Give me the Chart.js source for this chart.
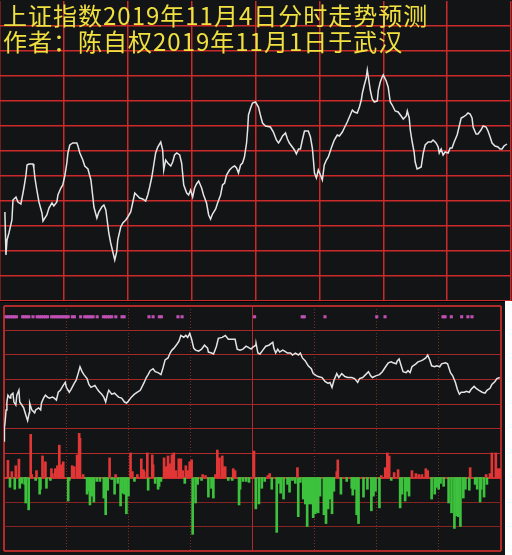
<!DOCTYPE html>
<html>
<head>
<meta charset="utf-8">
<script src="https://cdn.jsdelivr.net/npm/chart.js@4/dist/chart.umd.min.js"></script>
<style>
  body { margin: 0; background: #000; width: 512px; height: 555px; overflow: hidden; position: relative; }
  canvas { position: absolute; background: #131416; }
  #top { left: 0; top: 0; }
  #bottom { left: 0; top: 302px; }
  #strip { position: absolute; left: 505px; top: 301px; width: 7px; height: 254px; background: #fff; }
  #title {
    position: absolute; left: 3px; top: 2px;
    font: 24px "Noto Sans CJK SC", sans-serif; line-height: 26px;
    letter-spacing: 1px; color: #f0e040; white-space: pre;
  }
</style>
</head>
<body>
<canvas id="top" width="512" height="301"></canvas>
<canvas id="bottom" width="505" height="253"></canvas>
<div id="strip"></div>
<div id="title">上证指数2019年11月4日分时走势预测
作者：陈自权2019年11月1日于武汉</div>
<script>
// upper panel: forecast line (minutes after the open, index points)
const topMinutes = [2.3,2.8,3.3,4.2,5.6,6.1,7.5,8.4,9.8,10.8,11.3,12.2,12.7,13.6,15.5,15.9,16.4,17.3,18.3,19.7,
  20.2,22.0,23.0,24.4,25.3,26.7,27.2,28.6,29.5,30.5,31.4,31.9,32.8,34.2,36.1,36.6,37.5,38.9,39.8,41.3,
  42.7,43.6,44.1,45.5,46.4,47.8,48.8,49.7,50.2,51.1,52.0,53.0,53.9,54.8,55.3,56.7,57.7,59.1,60.0,61.4,
  62.3,63.3,64.2,65.6,67.0,68.4,69.4,70.3,71.3,72.2,73.1,74.1,75.5,76.4,76.9,77.8,78.8,80.2,81.1,82.0,
  83.0,84.4,85.3,86.3,87.7,88.6,89.5,90.5,91.4,92.3,93.3,94.7,95.6,97.0,98.0,98.9,99.8,101.3,102.2,103.6,
  104.5,105.5,106.4,107.8,109.2,110.2,111.1,112.0,113.0,113.9,114.8,115.8,116.3,116.7,117.7,118.6,120.0,121.4,122.3,123.3,
  124.7,127.0,128.4,129.8,130.8,131.7,132.7,134.1,135.0,135.9,137.3,138.3,139.2,140.2,141.1,142.0,143.0,144.8,145.8,146.7,
  147.2,147.7,148.6,149.5,150.5,151.4,152.3,153.3,154.2,155.6,157.0,158.4,159.4,160.8,161.7,163.1,164.1,165.5,166.4,167.8,
  168.8,169.7,170.2,171.1,172.0,172.5,173.0,173.9,174.8,175.8,177.2,177.7,178.6,179.5,180.0,181.4,182.3,183.3,184.2,185.6,
  187.0,188.4,189.4,190.8,191.3,192.2,192.7,193.6,194.5,195.0,195.9,196.9,197.8,198.8,199.7,201.1,202.5,203.4,204.8,205.8,
  206.3,207.2,208.1,209.1,210.5,211.4,212.3,213.3,214.7,215.6,216.6,217.5,218.9,219.8,220.8,221.7,222.2,223.6,224.5,225.9,
  226.9,228.3,229.2,230.2,231.1,232.5,233.9,234.8,235.8,236.7,238.1];
const topPrices = [2935.6,2918.4,2924.4,2927.2,2932.4,2940.4,2941.6,2939.6,2938.8,2943.2,2945.6,2950.4,2954.4,2954.8,2954.8,2953.2,2949.2,2944.4,2939.6,2935.2,
  2932.0,2934.4,2937.2,2939.2,2938.0,2939.6,2942.4,2945.2,2946.4,2950.4,2955.2,2959.2,2962.4,2963.2,2963.2,2962.0,2959.2,2956.4,2954.0,2952.8,
  2948.4,2941.6,2937.6,2933.2,2935.6,2937.6,2938.4,2936.4,2933.2,2927.2,2923.2,2919.6,2916.4,2919.6,2924.4,2929.6,2931.2,2932.4,2933.6,2935.6,
  2939.2,2943.2,2942.4,2941.2,2940.8,2940.0,2942.4,2945.6,2949.6,2954.4,2959.2,2961.6,2963.6,2960.4,2952.4,2956.4,2955.2,2954.0,2955.6,2958.4,
  2959.2,2958.4,2955.2,2946.4,2943.2,2942.4,2944.4,2941.6,2945.2,2946.8,2948.0,2945.2,2942.4,2939.2,2934.4,2932.8,2934.8,2936.8,2939.2,2942.4,
  2946.4,2947.2,2950.4,2952.4,2953.6,2954.0,2953.2,2951.2,2954.4,2955.2,2957.6,2963.2,2968.4,2974.4,2977.2,2979.2,2979.6,2977.6,2974.4,2971.2,
  2970.0,2969.6,2967.6,2964.4,2963.2,2964.4,2966.0,2967.2,2964.8,2963.2,2961.6,2960.4,2958.8,2960.8,2960.8,2964.4,2968.0,2968.0,2965.6,2961.2,
  2956.4,2951.2,2949.2,2952.4,2950.4,2948.4,2954.4,2956.4,2957.6,2961.2,2964.4,2966.4,2966.0,2967.6,2969.2,2971.6,2973.6,2976.4,2975.6,2975.2,
  2977.6,2980.4,2983.2,2986.4,2989.2,2992.4,2989.6,2984.4,2980.8,2979.6,2980.0,2984.4,2987.6,2989.6,2990.4,2988.0,2985.6,2979.6,2978.4,2976.0,
  2975.6,2974.0,2972.8,2974.0,2976.0,2973.2,2968.4,2963.6,2959.6,2955.6,2952.8,2953.2,2953.6,2959.2,2962.4,2963.6,2963.6,2964.4,2963.2,2961.6,
  2959.2,2960.8,2958.4,2959.6,2959.2,2961.2,2961.2,2963.6,2966.4,2969.6,2973.2,2973.6,2974.4,2975.2,2974.8,2973.2,2969.6,2966.8,2966.8,2968.4,
  2970.0,2969.6,2968.0,2965.6,2963.2,2962.0,2961.6,2960.8,2960.8,2962.0,2962.8];

// lower panel: intraday line
const lowerMinutes = [0.0,0.2,0.5,1.0,1.4,1.9,2.9,3.3,4.3,4.8,5.7,6.2,7.2,7.6,8.6,9.5,10.5,11.4,12.2,12.4,
  13.4,14.8,15.3,16.7,17.7,18.1,19.1,20.0,21.0,21.9,23.4,24.3,25.3,26.2,27.2,28.6,29.6,30.1,31.5,32.4,
  33.9,34.8,35.8,36.7,37.7,38.6,40.1,41.0,42.0,43.9,44.8,45.8,47.2,48.2,49.1,50.1,50.6,52.0,53.4,54.4,
  55.3,56.8,58.2,59.2,60.1,61.5,63.0,64.4,65.8,67.7,68.7,69.6,70.6,72.0,73.0,74.4,75.8,76.8,77.8,79.2,
  80.2,81.1,82.1,83.5,84.5,85.4,86.8,87.8,88.7,89.7,90.6,91.6,92.5,94.0,95.4,96.8,98.3,98.7,100.2,101.2,
  102.6,103.5,105.4,106.9,108.3,110.2,111.6,112.6,114.0,115.4,116.9,117.8,119.3,120.2,121.6,121.7,122.6,123.6,125.0,126.4,
  127.9,129.8,130.3,131.2,132.2,133.1,134.6,135.5,136.9,138.4,139.3,140.7,142.2,143.1,144.1,145.5,146.9,148.4,149.3,150.8,
  151.7,153.6,155.0,156.5,157.4,158.4,159.3,160.7,161.7,163.1,164.6,166.0,167.9,169.3,170.8,171.7,173.2,175.1,176.0,177.0,
  177.9,179.8,181.3,182.7,184.6,185.6,187.0,187.9,189.4,189.9,190.8,191.8,192.7,194.2,195.1,196.1,197.0,198.9,199.9,201.3,
  202.3,203.7,204.6,205.6,206.5,208.0,208.9,210.4,211.3,213.2,214.2,215.6,216.6,218.0,218.9,219.9,220.8,222.3,223.2,224.7,
  225.6,227.0,228.0,229.4,230.9,232.3,233.2,234.7,235.6,237.1,238.0,239.4];
const lowerPrices = [2944.9,2950.4,2952.4,2957.6,2960.8,2963.6,2962.4,2963.6,2964.4,2960.8,2959.6,2963.6,2965.6,2960.8,2959.6,2958.4,2955.6,2953.2,2956.4,2960.4,
  2957.6,2956.4,2957.6,2958.4,2957.6,2960.4,2962.4,2963.6,2962.8,2962.4,2962.8,2962.4,2961.6,2964.8,2965.6,2967.6,2968.8,2966.8,2964.8,2966.0,
  2968.4,2969.6,2972.4,2975.2,2973.2,2972.0,2970.4,2968.0,2966.8,2967.6,2966.4,2965.2,2964.0,2962.8,2960.8,2964.4,2965.6,2964.0,2964.4,2963.6,
  2962.8,2962.4,2960.8,2960.4,2961.2,2962.8,2964.0,2964.8,2965.6,2968.8,2970.8,2972.0,2973.6,2974.4,2973.2,2972.8,2972.0,2974.8,2978.0,2978.8,
  2980.8,2982.0,2982.8,2984.4,2985.6,2988.0,2987.2,2988.0,2987.2,2988.8,2986.4,2982.8,2982.0,2981.6,2982.4,2984.0,2982.8,2981.2,2980.8,2980.4,
  2983.6,2986.8,2987.2,2988.0,2986.4,2986.4,2986.4,2982.4,2982.0,2982.4,2983.6,2983.2,2982.4,2983.2,2984.0,2984.8,2980.8,2980.4,2982.0,2983.6,
  2984.0,2985.2,2982.8,2980.8,2982.4,2981.2,2982.0,2981.6,2980.8,2980.8,2980.0,2980.8,2980.0,2980.8,2978.8,2977.6,2975.6,2974.4,2972.4,2971.6,
  2971.2,2970.8,2969.2,2968.4,2968.8,2966.8,2969.6,2972.4,2970.8,2972.4,2971.2,2970.8,2970.8,2970.4,2968.8,2970.4,2970.8,2972.4,2973.2,2971.6,
  2970.8,2971.6,2972.0,2973.2,2975.6,2976.8,2977.2,2976.8,2976.4,2977.6,2978.4,2975.6,2973.2,2972.8,2973.6,2972.8,2975.2,2976.4,2977.2,2977.6,
  2978.0,2978.8,2980.0,2978.0,2975.6,2975.2,2975.6,2975.2,2976.4,2976.8,2976.4,2972.8,2971.6,2968.8,2966.0,2964.0,2964.8,2964.8,2965.2,2964.8,
  2966.0,2967.2,2966.4,2965.6,2964.8,2964.4,2965.6,2966.4,2968.0,2969.2,2970.4,2970.8];

// signal marks along the top of the lower panel
const signalMinutes = [1,2,3,4,5,6,9,10,11,12,14,16,17,18,19,20,21,23,24,25,26,27,28,29,30,31,33,34,37,
  39,40,41,42,43,45,48,49,50,51,52,54,57,58,70,72,75,76,84,86,121,144,145,155,180,184,212,213,216,221,224,226];
const signalLevel = 2995.6;

// red (inflow) and green (outflow) bars
const inflowMinutes = [1.9,3.8,5.7,7.2,12.9,13.4,15.7,18.6,20.0,22.9,23.4,24.8,25.8,26.7,27.7,28.6,32.9,33.9,35.3,36.3,
  36.7,38.2,51.0,53.9,61.1,62.0,64.4,66.3,67.3,67.7,69.2,71.6,72.0,77.3,78.2,79.2,80.1,81.1,82.0,83.0,
  84.4,85.4,86.3,87.8,88.7,89.7,90.6,95.9,97.3,102.1,103.0,104.0,105.4,105.9,106.8,110.7,111.6,120.7,127.4,128.3,
  141.7,160.7,161.2,182.2,184.1,185.1,186.0,188.4,190.3,197.0,198.9,200.3,201.8,203.7,204.6,225.1,232.8,234.7,235.6,237.5,
  238.5,239.5];
const inflowValues = [70,24,48,75,176,12,28,88,64,36,16,36,48,132,52,64,48,44,92,180,
  160,12,80,12,100,24,12,76,32,24,100,92,52,80,44,88,56,92,100,28,
  76,76,28,48,28,64,72,12,8,12,112,80,88,44,44,36,28,108,8,16,
  40,24,72,8,40,100,88,20,32,28,16,12,12,36,28,40,12,16,100,100,
  36,36];
const outflowMinutes = [2.9,5.2,7.6,8.6,10.0,10.5,11.9,15.3,17.2,17.6,20.5,22.4,31.0,31.5,39.1,40.1,41.0,41.5,42.5,43.4,
  44.8,46.3,48.2,49.1,50.1,52.0,53.4,54.9,56.3,57.2,58.2,59.1,60.1,63.0,69.6,73.0,74.4,74.9,75.8,87.3,
  91.1,92.5,93.5,95.4,98.7,100.2,101.1,108.3,110.2,113.5,114.0,115.4,116.9,118.3,121.6,123.1,124.5,125.9,129.3,131.7,
  132.6,133.6,135.0,136.9,137.9,139.3,140.7,142.1,143.1,144.5,145.5,146.4,147.4,148.3,149.3,150.3,151.2,151.7,152.6,154.5,
  155.5,156.5,157.4,158.4,159.3,162.7,165.5,167.9,168.4,169.3,170.3,171.2,173.6,175.5,177.4,178.4,179.4,181.3,187.0,191.3,
  192.2,193.7,194.6,195.6,206.5,208.0,208.9,209.9,210.8,212.3,214.7,216.1,217.5,218.5,219.4,220.4,221.8,222.8,224.7,227.5,
  228.5,229.9,230.4,231.8,233.2];
const outflowValues = [-40,-48,-44,-24,-28,-104,-132,-12,-68,-48,-44,-12,-96,-12,-4,-68,-56,-112,-76,-100,
  -16,-16,-84,-152,-52,-8,-68,-24,-116,-64,-68,-148,-76,-16,-52,-24,-48,-36,-16,-24,
  -232,-104,-28,-12,-80,-44,-84,-12,-12,-112,-48,-16,-16,-20,-128,-108,-44,-16,-48,-224,
  -24,-64,-88,-28,-60,-12,-24,-160,-20,-88,-108,-200,-108,-108,-164,-148,-140,-144,-76,-152,
  -188,-128,-88,-148,-56,-68,-16,-44,-72,-48,-152,-188,-80,-48,-136,-76,-56,-124,-12,-124,
  -68,-96,-56,-76,-88,-68,-40,-48,-24,-36,-104,-144,-208,-156,-160,-200,-84,-48,-52,-28,
  -48,-100,-48,-80,-28];

const pts = (xs, ys) => xs.map((x, i) => ({ x: x, y: ys[i] }));

const red = "#cc2a2a";
const none = "rgba(0,0,0,0)";

// value of the tick a grid line belongs to (undefined outside tick contexts)
const tickVal = (c) => (c && c.tick ? c.tick.value : undefined);

new Chart(document.getElementById("top"), {
  type: "line",
  data: {
    datasets: [{
      data: pts(topMinutes, topPrices),
      borderColor: "#e4e4e4",
      borderWidth: 1.5,
      pointRadius: 0,
      tension: 0,
    }],
  },
  options: {
    responsive: false,
    animation: false,
    events: [],
    layout: { padding: { top: 1, left: 0, right: 1, bottom: 0 } },
    plugins: { legend: { display: false }, tooltip: { enabled: false } },
    scales: {
      x: {
        type: "linear", min: 0, max: 240, offset: false,
        ticks: { display: false, stepSize: 30 },
        grid: { color: red, lineWidth: 1.5, drawTicks: false, offset: false },
        border: { display: false },
      },
      y: {
        min: 2900, max: 3020,
        ticks: { display: false, stepSize: 10 },
        grid: {
          color: (c) => (tickVal(c) === 3020 ? none : red),
          lineWidth: 1.5,
          drawTicks: false,
        },
        border: { display: false },
      },
    },
  },
});

function lowerGridColor(c) {
  const v = tickVal(c);
  if (v === 3000 || v === 2900) return "#b02a2a";
  if (v === 2930) return "#cc3030";
  if (v === 2940) return "#b42c2c";
  if (v !== undefined && v < 2930) return "#862424";
  return "#a42828";
}
function lowerGridWidth(c) {
  const v = tickVal(c);
  return v === 3000 || v === 2900 || v === 2930 ? 2 : 1;
}

new Chart(document.getElementById("bottom"), {
  type: "line",
  data: {
    datasets: [
      {
        data: pts(lowerMinutes, lowerPrices),
        borderColor: "#e4e4e4",
        borderWidth: 1.5,
        pointRadius: 0,
        tension: 0,
        order: 0,
      },
      {
        data: signalMinutes.map((m) => ({ x: m, y: signalLevel })),
        showLine: false,
        pointStyle: "rect",
        pointRadius: 2.2,
        pointBorderWidth: 0,
        pointBackgroundColor: "#c050b4",
        order: 1,
      },
      {
        type: "bar",
        data: pts(inflowMinutes, inflowValues),
        yAxisID: "y2",
        backgroundColor: "#e23636",
        barThickness: 2,
        grouped: false,
        order: 2,
      },
      {
        type: "bar",
        data: pts(outflowMinutes, outflowValues),
        yAxisID: "y2",
        backgroundColor: "#3cc23c",
        barThickness: 2,
        grouped: false,
        order: 2,
      },
    ],
  },
  options: {
    responsive: false,
    animation: false,
    events: [],
    layout: { padding: { top: 2, left: 1, right: 1, bottom: 1 } },
    plugins: { legend: { display: false }, tooltip: { enabled: false } },
    scales: {
      x: {
        type: "linear", min: 0, max: 240, offset: false,
        ticks: { display: false, stepSize: 30 },
        grid: {
          color: (c) => (tickVal(c) % 120 === 0 ? none : "#862828"),
          drawTicks: false,
          offset: false,
        },
        border: { display: false, dash: [1, 2] },
      },
      x2: {
        type: "linear", position: "bottom", min: 0, max: 240, offset: false,
        ticks: { display: false, stepSize: 120 },
        grid: {
          color: "#b02a2a",
          lineWidth: (c) => (tickVal(c) === 120 ? 1 : 2),
          drawTicks: false,
          offset: false,
        },
        border: { display: false },
      },
      y: {
        min: 2900, max: 3000,
        ticks: { display: false, stepSize: 10 },
        grid: { color: lowerGridColor, lineWidth: lowerGridWidth, drawTicks: false },
        border: { display: false },
      },
      y2: { display: false, min: -300, max: 700 },
    },
  },
});
</script>
</body>
</html>
